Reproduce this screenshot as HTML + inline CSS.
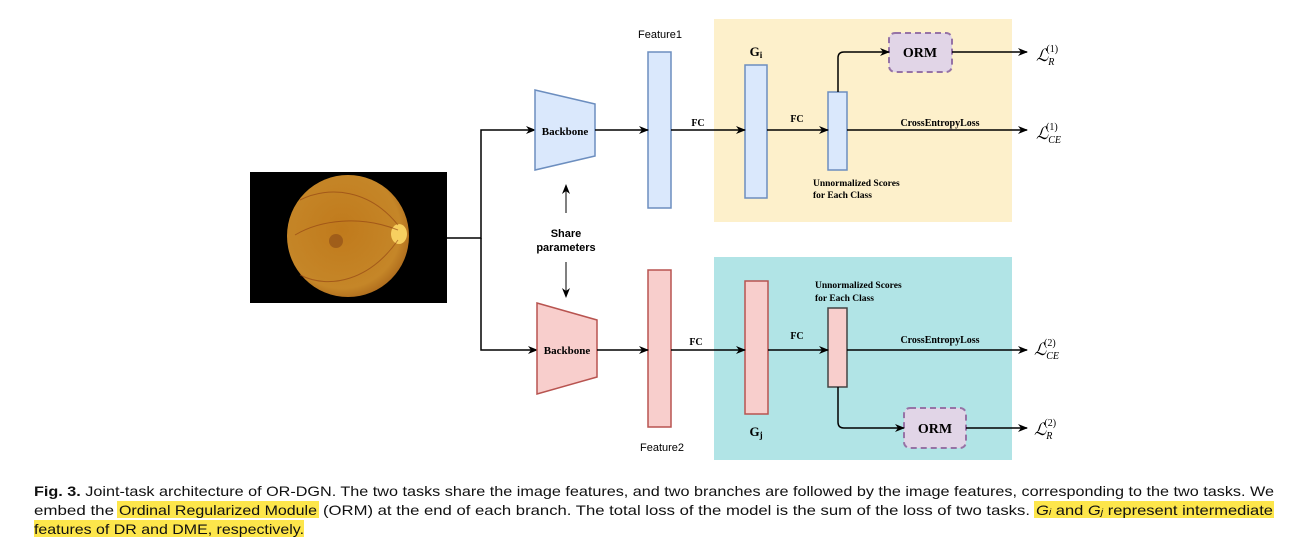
<!DOCTYPE html>
<html><head><meta charset="utf-8"><style>
html,body{margin:0;padding:0;background:#fff;}
svg{display:block;}
.s{font-family:"Liberation Serif",serif;font-weight:bold;}
.a{font-family:"Liberation Sans",sans-serif;}
</style></head><body>
<svg width="1302" height="547" viewBox="0 0 1302 547" xmlns="http://www.w3.org/2000/svg">
<defs>
<marker id="ar" markerWidth="10" markerHeight="10" refX="9" refY="5" orient="auto" markerUnits="userSpaceOnUse">
<path d="M0,1 L10,5 L0,9 L3,5 z" fill="#000"/></marker>
<radialGradient id="eye" cx="0.45" cy="0.45" r="0.6">
<stop offset="0" stop-color="#c07a1c"/><stop offset="0.8" stop-color="#c58628"/><stop offset="1" stop-color="#a9661a"/></radialGradient>
</defs>
<rect x="714" y="19" width="298" height="203" fill="#fdf0cb"/>
<rect x="714" y="257" width="298" height="203" fill="#b1e4e6"/>
<rect x="250" y="172" width="197" height="131" fill="#000"/>
<circle cx="348" cy="236" r="61" fill="url(#eye)"/>
<circle cx="336" cy="241" r="7" fill="#8a4a18" opacity="0.6"/>
<ellipse cx="399" cy="234" rx="8" ry="10" fill="#f7d060"/>
<path d="M398,225 C370,190 330,185 300,200 M398,240 C370,280 330,290 300,275 M398,230 C360,215 320,220 295,235" stroke="#8d3d12" stroke-width="1" fill="none" opacity="0.6"/>
<path d="M447,238 H481 V130 H535" stroke="#000" stroke-width="1.5" fill="none" marker-end="url(#ar)"/>
<path d="M481,238 V350 H537" stroke="#000" stroke-width="1.5" fill="none" marker-end="url(#ar)"/>
<polygon points="535,90 595,104 595,156 535,170" fill="#dae8fc" stroke="#6c8ebf" stroke-width="1.5"/>
<text x="565" y="135" class="s" font-size="11" text-anchor="middle">Backbone</text>
<rect x="648" y="52" width="23" height="156" fill="#dae8fc" stroke="#6c8ebf" stroke-width="1.5"/>
<text x="660" y="38" class="a" font-size="11" text-anchor="middle">Feature1</text>
<rect x="745" y="65" width="22" height="133" fill="#dae8fc" stroke="#6c8ebf" stroke-width="1.5"/>
<text x="756" y="56" class="s" font-size="13" text-anchor="middle">G<tspan font-size="9" dy="2">i</tspan></text>
<rect x="828" y="92" width="19" height="78" fill="#dae8fc" stroke="#6c8ebf" stroke-width="1.5"/>
<rect x="889" y="33" width="63" height="39" rx="6" fill="#e1d5e7" stroke="#9673a6" stroke-width="2" stroke-dasharray="6,4"/>
<text x="920" y="57" class="s" font-size="14" text-anchor="middle">ORM</text>
<line x1="595" y1="130" x2="648" y2="130" stroke="#000" stroke-width="1.5" marker-end="url(#ar)"/>
<line x1="671" y1="130" x2="745" y2="130" stroke="#000" stroke-width="1.5" marker-end="url(#ar)"/>
<line x1="767" y1="130" x2="828" y2="130" stroke="#000" stroke-width="1.5" marker-end="url(#ar)"/>
<line x1="847" y1="130" x2="1027" y2="130" stroke="#000" stroke-width="1.5" marker-end="url(#ar)"/>
<path d="M838,92 V58 Q838,52 844,52 H889" stroke="#000" stroke-width="1.5" fill="none" marker-end="url(#ar)"/>
<line x1="952" y1="52" x2="1027" y2="52" stroke="#000" stroke-width="1.5" marker-end="url(#ar)"/>
<text x="698" y="126" class="s" font-size="10" text-anchor="middle">FC</text>
<text x="797" y="122" class="s" font-size="10" text-anchor="middle">FC</text>
<text x="940" y="126" class="s" font-size="10" text-anchor="middle">CrossEntropyLoss</text>
<text x="813" y="186" class="s" font-size="9.5">Unnormalized Scores</text>
<text x="813" y="198" class="s" font-size="9.5">for Each Class</text>
<text x="1036" y="61" font-family="Liberation Serif,serif" font-style="italic" font-size="17">ℒ<tspan font-size="10" dy="4">R</tspan><tspan font-size="10" dx="-8" dy="-13" font-style="normal">(1)</tspan></text>
<text x="1036" y="139" font-family="Liberation Serif,serif" font-style="italic" font-size="17">ℒ<tspan font-size="10" dy="4">CE</tspan><tspan font-size="10" dx="-15" dy="-13" font-style="normal">(1)</tspan></text>
<line x1="566" y1="213" x2="566" y2="185" stroke="#000" stroke-width="1" marker-end="url(#ar)"/>
<text x="566" y="237" class="a" font-size="11" font-weight="bold" text-anchor="middle">Share</text>
<text x="566" y="251" class="a" font-size="11" font-weight="bold" text-anchor="middle">parameters</text>
<line x1="566" y1="262" x2="566" y2="297" stroke="#000" stroke-width="1" marker-end="url(#ar)"/>
<polygon points="537,303 597,320 597,377 537,394" fill="#f8cecc" stroke="#b85450" stroke-width="1.5"/>
<text x="567" y="354" class="s" font-size="11" text-anchor="middle">Backbone</text>
<rect x="648" y="270" width="23" height="157" fill="#f8cecc" stroke="#b85450" stroke-width="1.5"/>
<text x="662" y="451" class="a" font-size="11" text-anchor="middle">Feature2</text>
<rect x="745" y="281" width="23" height="133" fill="#f8cecc" stroke="#b85450" stroke-width="1.5"/>
<text x="756" y="436" class="s" font-size="13" text-anchor="middle">G<tspan font-size="9" dy="2">j</tspan></text>
<rect x="828" y="308" width="19" height="79" fill="#f8cecc" stroke="#444" stroke-width="1.5"/>
<rect x="904" y="408" width="62" height="40" rx="6" fill="#e1d5e7" stroke="#9673a6" stroke-width="2" stroke-dasharray="6,4"/>
<text x="935" y="433" class="s" font-size="14" text-anchor="middle">ORM</text>
<line x1="597" y1="350" x2="648" y2="350" stroke="#000" stroke-width="1.5" marker-end="url(#ar)"/>
<line x1="671" y1="350" x2="745" y2="350" stroke="#000" stroke-width="1.5" marker-end="url(#ar)"/>
<line x1="768" y1="350" x2="828" y2="350" stroke="#000" stroke-width="1.5" marker-end="url(#ar)"/>
<line x1="847" y1="350" x2="1027" y2="350" stroke="#000" stroke-width="1.5" marker-end="url(#ar)"/>
<path d="M838,387 V422 Q838,428 844,428 H904" stroke="#000" stroke-width="1.5" fill="none" marker-end="url(#ar)"/>
<line x1="966" y1="428" x2="1027" y2="428" stroke="#000" stroke-width="1.5" marker-end="url(#ar)"/>
<text x="696" y="345" class="s" font-size="10" text-anchor="middle">FC</text>
<text x="797" y="339" class="s" font-size="10" text-anchor="middle">FC</text>
<text x="940" y="343" class="s" font-size="10" text-anchor="middle">CrossEntropyLoss</text>
<text x="815" y="288" class="s" font-size="9.5">Unnormalized Scores</text>
<text x="815" y="301" class="s" font-size="9.5">for Each Class</text>
<text x="1034" y="355" font-family="Liberation Serif,serif" font-style="italic" font-size="17">ℒ<tspan font-size="10" dy="4">CE</tspan><tspan font-size="10" dx="-15" dy="-13" font-style="normal">(2)</tspan></text>
<text x="1034" y="435" font-family="Liberation Serif,serif" font-style="italic" font-size="17">ℒ<tspan font-size="10" dy="4">R</tspan><tspan font-size="10" dx="-8" dy="-13" font-style="normal">(2)</tspan></text>
<rect x="117" y="501" width="202" height="17" fill="#fde64b"/>
<rect x="1034" y="501" width="240" height="17" fill="#fde64b"/>
<rect x="34" y="520" width="270" height="17" fill="#fde64b"/>
<g font-family="Liberation Sans,sans-serif" font-size="14" fill="#111">
<text x="34" y="496" textLength="1240" lengthAdjust="spacingAndGlyphs"><tspan font-weight="bold">Fig. 3.</tspan> Joint-task architecture of OR-DGN. The two tasks share the image features, and two branches are followed by the image features, corresponding to the two tasks. We</text>
<text x="34" y="515" textLength="80" lengthAdjust="spacingAndGlyphs">embed the</text>
<text x="119" y="515" textLength="198" lengthAdjust="spacingAndGlyphs">Ordinal Regularized Module</text>
<text x="323" y="515" textLength="707" lengthAdjust="spacingAndGlyphs">(ORM) at the end of each branch. The total loss of the model is the sum of the loss of two tasks.</text>
<text x="1036" y="515" textLength="237" lengthAdjust="spacingAndGlyphs"><tspan font-style="italic">G</tspan><tspan font-size="9" font-style="italic">i</tspan> and <tspan font-style="italic">G</tspan><tspan font-size="9" font-style="italic">j</tspan> represent intermediate</text>
<text x="34" y="534" textLength="270" lengthAdjust="spacingAndGlyphs">features of DR and DME, respectively.</text>
</g>
</svg>
</body></html>
